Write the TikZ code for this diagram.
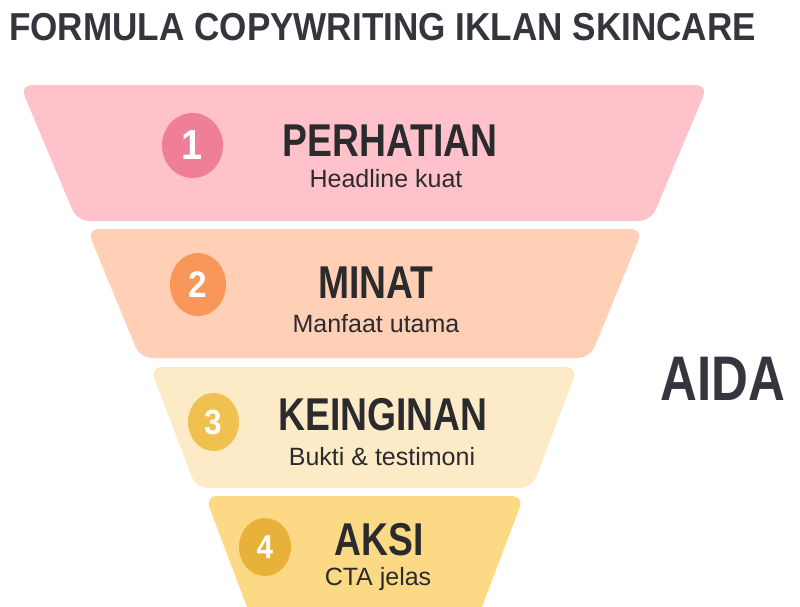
\documentclass[tikz,border=0pt]{standalone}
\usepackage{fontspec}
\setmainfont{Liberation Sans}
\newfontfamily\headfont[FakeStretch=0.81]{Liberation Sans}
\newfontfamily\titlefont[FakeStretch=0.9]{Liberation Sans}
\usetikzlibrary{shapes.geometric}
\definecolor{ink}{HTML}{2B2B2E}
\definecolor{titleink}{HTML}{35363D}
\definecolor{pinkfill}{HTML}{FFC2CA}
\definecolor{pinkdot}{HTML}{EF7F98}
\definecolor{peachfill}{HTML}{FFD0B5}
\definecolor{peachdot}{HTML}{F9965A}
\definecolor{creamfill}{HTML}{FDEBC8}
\definecolor{creamdot}{HTML}{F0C050}
\definecolor{goldfill}{HTML}{FCD985}
\definecolor{golddot}{HTML}{E8B23A}
\tikzset{
  tier/.style={rounded corners=12pt},
  num/.style={ellipse, inner sep=0pt, text=white},
  stage/.style={anchor=base, text=ink, font=\headfont\bfseries\fontsize{46}{50}\selectfont},
  sub/.style={anchor=base, text=ink, font=\fontsize{25}{28}\selectfont}
}

\begin{document}
\begin{tikzpicture}[x=1pt,y=-1pt]
  \clip (0,0) rectangle (800,606);
  \fill[white] (0,0) rectangle (800,606);

  % title
  \node[anchor=base west, inner sep=0pt, text=titleink, font=\titlefont\bfseries\fontsize{39}{42}\selectfont] (title) at (9,40) {FORMULA COPYWRITING IKLAN SKINCARE};

  % funnel tiers
  \fill[tier, pinkfill] (20,85) -- (708,85) -- (651,221) -- (77,221) -- cycle;
  \fill[tier, peachfill] (87,229) -- (643,229) -- (590,358) -- (140,358) -- cycle;
  \fill[tier, creamfill] (150,367) -- (578,367) -- (532,488) -- (196,488) -- cycle;
  \fill[tier, goldfill] (205,496) -- (524,496) -- (477,620) -- (252,620) -- cycle;

  % number badges
  \node[num, fill=pinkdot, minimum width=61pt, minimum height=65pt, font=\titlefont\bfseries\fontsize{42}{42}\selectfont] (one) at (192.5,145.5) {1};
  \node[num, fill=peachdot, minimum width=56pt, minimum height=63pt, font=\titlefont\bfseries\fontsize{37}{37}\selectfont] (two) at (198,284.5) {2};
  \node[num, fill=creamdot, minimum width=51pt, minimum height=58pt, font=\titlefont\bfseries\fontsize{35}{35}\selectfont] (three) at (213.5,422) {3};
  \node[num, fill=golddot, minimum width=52pt, minimum height=58pt, font=\titlefont\bfseries\fontsize{33}{33}\selectfont] (four) at (265,547) {4};

  % stage names
  \node[stage] (perhatian) at (390,156) {PERHATIAN};
  \node[sub] (headline) at (386,187) {Headline kuat};
  \node[stage] (minat) at (376,298) {MINAT};
  \node[sub] (manfaat) at (376,332) {Manfaat utama};
  \node[stage] (keinginan) at (383,430) {KEINGINAN};
  \node[sub] (bukti) at (382,465) {Bukti \& testimoni};
  \node[stage] (aksi) at (379,555) {AKSI};
  \node[sub] (cta) at (378,585) {CTA jelas};

  % side label
  \node[anchor=base, text=titleink, font=\headfont\bfseries\fontsize{63}{66}\selectfont] (aida) at (723,400) {AIDA};
\end{tikzpicture}
\end{document}
